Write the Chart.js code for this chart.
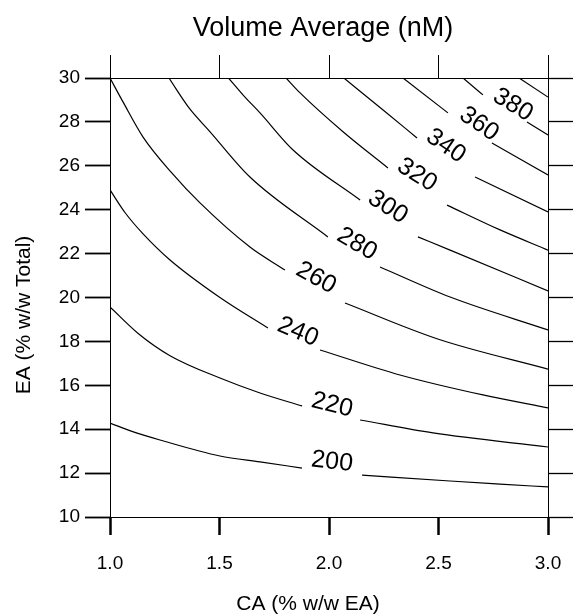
<!DOCTYPE html>
<html><head><meta charset="utf-8">
<script src="https://cdn.jsdelivr.net/npm/chart.js@4.4.1/dist/chart.umd.min.js"></script>
<style>html,body{margin:0;padding:0;background:#fff}#wrap{width:573px;height:614px}</style>
</head><body><div id="wrap"><canvas id="c" width="573" height="614"></canvas></div>
<script>
// axis ticks
const xTicks = [1.0, 1.5, 2.0, 2.5, 3.0];
const yTicks = [10, 12, 14, 16, 18, 20, 22, 24, 26, 28, 30];

// contour levels (nM) and their polylines [CA, EA]; "a" before the label gap, "b" after it
const levels = [200, 220, 240, 260, 280, 300, 320, 340, 360, 380];
const c200a = [[1.0,14.28],[1.1,13.90],[1.228,13.51],[1.502,12.78],[1.685,12.51],[1.877,12.23]];
const c200b = [[2.151,11.91],[2.553,11.64],[2.781,11.50],[3.0,11.37]];
const c220a = [[1.0,19.57],[1.13,18.35],[1.274,17.35],[1.502,16.33],[1.685,15.65],[1.877,15.06]];
const c220b = [[2.142,14.42],[2.475,13.83],[3.0,13.19]];
const c240a = [[1.0,24.90],[1.07,23.85],[1.151,22.90],[1.274,21.71],[1.502,20.00],[1.721,18.61]];
const c240b = [[1.959,17.61],[2.324,16.47],[2.703,15.56],[3.0,14.97]];
const c260a = [[1.0,30.0],[1.06,28.90],[1.151,27.31],[1.28,25.70],[1.411,24.31],[1.639,22.30],[1.799,21.25]];
const c260b = [[2.073,19.75],[2.5,18.10],[3.0,16.74]];
const c280a = [[1.269,30.0],[1.36,28.65],[1.457,27.55],[1.639,25.49],[1.995,22.76]];
const c280b = [[2.233,21.39],[2.553,20.02],[3.0,18.52]];
const c300a = [[1.541,30.0],[1.61,29.2],[1.685,28.41],[1.836,26.72],[2.142,24.44]];
const c300b = [[2.406,22.76],[2.553,22.16],[3.0,20.30]];
const c320a = [[1.804,30.0],[1.868,29.32],[2.064,27.55],[2.269,25.90]];
const c320b = [[2.539,24.21],[2.781,23.08],[3.0,22.16]];
const c340a = [[2.068,30.0],[2.247,28.54],[2.402,27.27]];
const c340b = [[2.667,25.49],[3.0,23.90]];
const c360a = [[2.338,30.0],[2.543,28.41]];
const c360b = [[2.744,27.04],[3.0,25.58]];
const c380a = [[2.612,30.0],[2.703,29.23]];
const c380b = [[2.904,28.0],[3.0,27.40]];
const c400 = [[2.868,30.0],[3.0,29.13]];

// label centres [CA, EA]
const labelX = [2.014, 2.014, 1.858, 1.941, 2.128, 2.269, 2.402, 2.534, 2.685, 2.840];
const labelY = [12.51, 15.10, 18.43, 20.89, 22.44, 24.12, 25.58, 26.90, 27.90, 28.77];

const segs = [[c200a,c200b],[c220a,c220b],[c240a,c240b],[c260a,c260b],[c280a,c280b],
              [c300a,c300b],[c320a,c320b],[c340a,c340b],[c360a,c360b],[c380a,c380b]];

const toPts = arr => arr.map(p => ({x: p[0], y: p[1]}));
const lineStyle = {showLine: true, pointRadius: 0, borderColor: '#000', borderWidth: 1.2,
  cubicInterpolationMode: 'monotone', fill: false};
const datasets = [];
segs.forEach((s, i) => {
  datasets.push(Object.assign({label: levels[i] + 'a', data: toPts(s[0])}, lineStyle));
  datasets.push(Object.assign({label: levels[i] + 'b', data: toPts(s[1])}, lineStyle));
});
datasets.push(Object.assign({label: '400', data: toPts(c400)}, lineStyle));

const FONT = '"Liberation Sans", Arial, sans-serif';

const annot = {
  id: 'annot',
  afterDatasetsDraw(chart) {
    const ctx = chart.ctx, x = chart.scales.x, y = chart.scales.y;
    ctx.save();
    ctx.fillStyle = '#000';
    ctx.font = '25px ' + FONT;
    ctx.textAlign = 'center';
    ctx.textBaseline = 'middle';
    levels.forEach((lv, i) => {
      const a = segs[i][0], b = segs[i][1];
      const p1 = a[a.length - 1], p2 = b[0];
      const ang = Math.atan2(y.getPixelForValue(p2[1]) - y.getPixelForValue(p1[1]),
                             x.getPixelForValue(p2[0]) - x.getPixelForValue(p1[0]));
      ctx.save();
      ctx.translate(x.getPixelForValue(labelX[i]), y.getPixelForValue(labelY[i]));
      ctx.rotate(ang);
      ctx.fillText(String(lv), 0, 0);
      ctx.restore();
    });
    ctx.restore();
  },
  afterDraw(chart) {
    const ctx = chart.ctx;
    ctx.save();
    ctx.fillStyle = '#000';
    ctx.textAlign = 'center';
    ctx.textBaseline = 'alphabetic';
    ctx.font = '27px ' + FONT;
    ctx.fillText('Volume Average (nM)', 323, 36);
    ctx.font = '21px ' + FONT;
    ctx.fillText('CA (% w/w EA)', 308, 610);
    ctx.translate(30, 315);
    ctx.rotate(-Math.PI / 2);
    ctx.fillText('EA (% w/w Total)', 0, 0);
    ctx.restore();
  }
};

const setTicks = arr => scale => { scale.ticks = arr.map(v => ({value: v})); };
const fixH = h => s => { s.height = h; s.paddingLeft = 0; s.paddingRight = 0; };

new Chart(document.getElementById('c'), {
  type: 'scatter',
  data: {datasets},
  options: {
    responsive: false,
    animation: false,
    layout: {padding: 0, autoPadding: false},
    plugins: {legend: {display: false}, tooltip: {enabled: false}, title: {display: false}},
    scales: {
      x: {
        type: 'linear', position: 'bottom', min: 1, max: 3,
        afterBuildTicks: setTicks(xTicks),
        afterFit: fixH(97),
        ticks: {autoSkip: false, maxRotation: 0, padding: 17, color: '#000',
          font: {family: FONT, size: 19}, callback: v => Number(v).toFixed(1)},
        grid: {drawOnChartArea: false, drawTicks: true, tickLength: 18, tickWidth: 2.5, tickColor: '#000'},
        border: {display: true, color: '#000', width: 1}
      },
      x2: {
        type: 'linear', position: 'top', min: 1, max: 3,
        afterBuildTicks: setTicks(xTicks),
        afterFit: fixH(78),
        ticks: {display: false},
        grid: {drawOnChartArea: false, drawTicks: true, tickLength: 23, tickWidth: 1, tickColor: '#000'},
        border: {display: true, color: '#000', width: 1}
      },
      y: {
        type: 'linear', position: 'left', min: 10, max: 30,
        afterBuildTicks: setTicks(yTicks),
        afterFit: s => { s.width = 110; },
        ticks: {autoSkip: false, padding: 5, color: '#000', font: {family: FONT, size: 19}},
        grid: {drawOnChartArea: false, drawTicks: true, tickLength: 25, tickWidth: 1.8, tickColor: '#000'},
        border: {display: true, color: '#000', width: 1}
      },
      y2: {
        type: 'linear', position: 'right', min: 10, max: 30,
        afterBuildTicks: setTicks(yTicks),
        afterFit: s => { s.width = 25; },
        ticks: {display: false},
        grid: {drawOnChartArea: false, drawTicks: true, tickLength: 25, tickWidth: 1.3, tickColor: '#000'},
        border: {display: true, color: '#000', width: 1}
      }
    }
  },
  plugins: [annot]
});
</script>
</body></html>
